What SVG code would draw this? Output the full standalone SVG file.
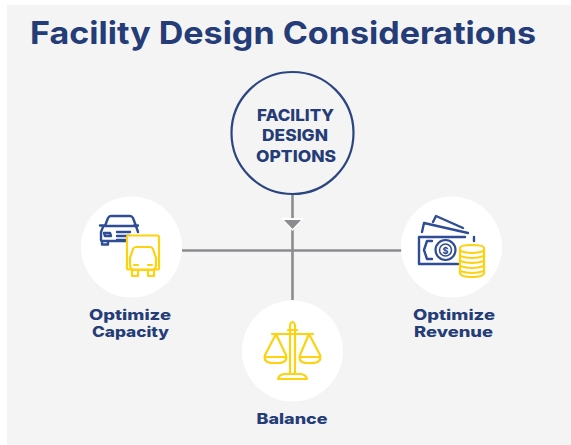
<svg xmlns="http://www.w3.org/2000/svg" width="571" height="445" viewBox="0 0 571 445">
<style>
text{font-family:"Inter","Liberation Sans",sans-serif;font-weight:800;fill:#243c77;text-anchor:middle}
.lbl{font-size:14.5px}
.c{font-size:16px}
.conn{stroke:#8c8c90;stroke-width:2.6;fill:none}
.y{fill:none;stroke:#fdd20e;stroke-width:2.200;stroke-linejoin:round;stroke-linecap:round}
.b{fill:none;stroke:#2f4d94;stroke-width:2.400;stroke-linejoin:round;stroke-linecap:round}
</style>
<rect width="571" height="445" fill="#fff"/>
<rect x="7" y="5" width="564" height="440" fill="#f4f4f4"/>
<text id="title" x="283" y="43.500" font-size="31.5" textLength="506" lengthAdjust="spacingAndGlyphs" style="font-weight:700">Facility Design Considerations</text>
<g id="connectors">
<path class="conn" d="M292.500 194V300M182 250.500H402"/>
<path d="M281 218H304L292.500 231Z" fill="#fff"/>
<path d="M284 220H301L292.500 229Z" fill="#8c8c90"/>
</g>
<g id="facility-design-options">
<circle cx="292.500" cy="133" r="61" fill="#f4f4f4" stroke="#2a4580" stroke-width="2.200"/>
<text class="c" x="295.500" y="121" textLength="77" lengthAdjust="spacingAndGlyphs">FACILITY</text>
<text class="c" x="295" y="141" textLength="66" lengthAdjust="spacingAndGlyphs">DESIGN</text>
<text class="c" x="296" y="161.500" textLength="80" lengthAdjust="spacingAndGlyphs">OPTIONS</text>
</g>
<g id="optimize-capacity">
<circle cx="131.500" cy="247" r="50.500" fill="#fff"/>
<path class="b" d="M105 226L108 218Q109 216 111 216H130Q132 216 133 218L136 226M100 225.500H105M134 225.500H138M105 226H136L138 232M103 227L101 232V240Q101 241 103 241H127M102 241V244.500H108V241M104 233H110L111 236H105ZM117 232H130M117 236H130M117 240H127"/>
<rect x="127" y="235.500" width="32" height="34" rx="1.500" fill="#fff" stroke="#fdd20e" stroke-width="2.200"/>
<path class="y" d="M130 264V258L133 249Q134 247 136 247H150Q152 247 153 249L156 258V264Q156 269 153 270H133Q130 269 130 264ZM132 270V276H138V270M148 270V276H154V270M134 265H138M148 265H152"/>
<text class="lbl" x="130" y="320" textLength="82" lengthAdjust="spacingAndGlyphs">Optimize</text>
<text class="lbl" x="130.500" y="337" textLength="77" lengthAdjust="spacingAndGlyphs">Capacity</text>
</g>
<g id="optimize-revenue">
<circle cx="451.500" cy="247" r="50.500" fill="#fff"/>
<path class="b" d="M422 232L424 223L468 233M433 222L436 216L463 228"/>
<path class="b" d="M465 237H419V264H458M474 237V241M432 241H427L424 250L427 259H432"/>
<circle cx="445.500" cy="250" r="10" fill="none" stroke="#2f4d94" stroke-width="2.200"/>
<circle cx="445.500" cy="250" r="6" fill="none" stroke="#2f4d94" stroke-width="1.600"/>
<text x="445.500" y="253.500" font-size="9" style="fill:#2f4d94">$</text>
<path d="M460 248Q460 245 472 245Q484 245 484 248V273Q484 277 472 277Q460 277 460 273Z" fill="#fff" stroke="#fdd20e" stroke-width="2.200"/>
<path class="y" d="M460 251Q472 255 484 251M460 256Q472 260 484 256M460 261Q472 265 484 261M460 266Q472 270 484 266M460 271Q472 275 484 271"/>
<text class="lbl" x="454" y="320" textLength="82" lengthAdjust="spacingAndGlyphs">Optimize</text>
<text class="lbl" x="453.500" y="337" textLength="79" lengthAdjust="spacingAndGlyphs">Revenue</text>
</g>
<g id="balance">
<circle cx="292.500" cy="351" r="50.500" fill="#fff"/>
<path class="y" d="M272 334H313M290 334V327Q290 322 292.500 322Q295 322 295 327V334M290 334V374M295 334V374M288 330H297M276 334L265 355Q263 363 273 363H278Q288 363 286 355L276 334M309 334L300 355Q298 363 307 363H312Q322 363 320 355L309 334M266 357H286M300 357H320M286 374Q279 374 278 379H307Q306 374 299 374Z"/>
<text class="lbl" x="292" y="424" textLength="71" lengthAdjust="spacingAndGlyphs">Balance</text>
</g>
</svg>
